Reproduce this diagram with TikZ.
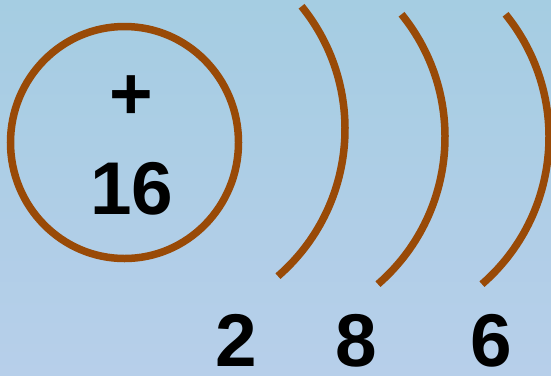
\documentclass[tikz,border=0pt]{standalone}
\usepackage{fontspec}
\setmainfont{Liberation Sans}
\usepackage{tikz}
\definecolor{INK}{HTML}{000000}
\definecolor{SHELL}{HTML}{994A07}
\definecolor{SKYTOP}{HTML}{A5CDE2}
\definecolor{SKYBOT}{HTML}{B7CFEA}

\begin{document}
\begin{tikzpicture}[x=1bp,y=-1bp]
\tikzset{shellline/.style={line width=7.5bp,SHELL},
 num/.style={font=\fontsize{75}{80}\bfseries\selectfont,INK,inner sep=0pt}}
\shade[top color=SKYTOP,bottom color=SKYBOT] (0,0) rectangle (551,375);
\useasboundingbox (0,0) rectangle (551,375);
\draw[shellline] (124.5,142.5) ellipse [x radius=114,y radius=116];
\node[num] (plus) at (131,98) {+};
\node[num,anchor=base] (core) at (132,214) {16};
\foreach \cx/\cy/\n/\lx in {150/129/2/236,250/137/8/356,354/137/6/491}{
 \draw[shellline] (\cx,\cy) ++(-39:195) arc[start angle=-39,end angle=49,radius=195];
 \node[num,anchor=base] (e\n) at (\lx,366) {\n};}
\end{tikzpicture}
\end{document}
